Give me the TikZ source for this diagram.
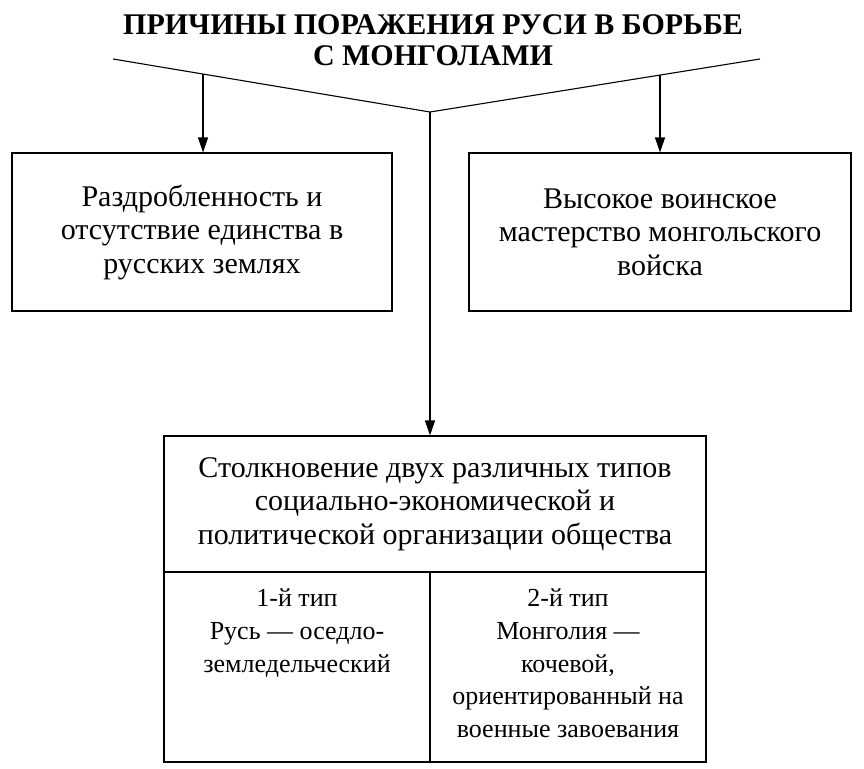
\documentclass[tikz,border=0pt]{standalone}
\usepackage{fontspec}
\setmainfont{Liberation Serif}
\usetikzlibrary{arrows.meta,calc}
\begin{document}
\begin{tikzpicture}[x=1pt,y=-1pt,
  line/.style={line width=1.1pt},
  arr/.style={line, -{Triangle[length=15pt,width=10pt]}},
  box/.style={draw,line width=1.1pt,rectangle,inner sep=0pt,align=center,
    font=\fontsize{30}{33.5}\selectfont},
  txt/.style={align=center,inner sep=0pt,font=\fontsize{26}{32.8}\selectfont}]
\useasboundingbox (0,0) rectangle (864,768);
\node[align=center,inner sep=0pt,anchor=north,font=\bfseries\fontsize{30}{31}\selectfont] (title) at (433,14.5)
  {ПРИЧИНЫ ПОРАЖЕНИЯ РУСИ В БОРЬБЕ\\С МОНГОЛАМИ};
\coordinate (L) at (113,59);
\coordinate (A) at (430,112);
\coordinate (R) at (760,59);
\node[box,minimum width=380pt,minimum height=158pt] (lbox) at (202,232)
  {Раздробленность и\\отсутствие единства в\\русских землях};
\node[box,minimum width=382pt,minimum height=158pt] (rbox) at (660,232)
  {Высокое воинское\\мастерство монгольского\\войска};
\node[box,minimum width=542pt,minimum height=136pt] (bbox) at (435,504)
  {Столкновение двух различных типов\\социально-экономической и\\политической организации общества};
\node[box,minimum width=266pt,minimum height=190pt] (c1) at (297,667) {};
\node[box,minimum width=276pt,minimum height=190pt] (c2) at (568,667) {};
\node[txt,anchor=north] (t1) at ($(c1.north)+(0,17)$)
  {1-й тип\\Русь — оседло-\\земледельческий};
\node[txt,anchor=north] (t2) at ($(c2.north)+(0,17)$)
  {2-й тип\\Монголия —\\кочевой,\\ориентированный на\\военные завоевания};
\draw[line] (L) -- (A) -- (R);
\coordinate (la) at ($(L)!0.284!(A)$);
\coordinate (ra) at ($(R)!0.303!(A)$);
\draw[arr] (la) -- (la |- lbox.north);
\draw[arr] (ra) -- (ra |- rbox.north);
\draw[arr] (A) -- (A |- bbox.north);
\end{tikzpicture}
\end{document}
